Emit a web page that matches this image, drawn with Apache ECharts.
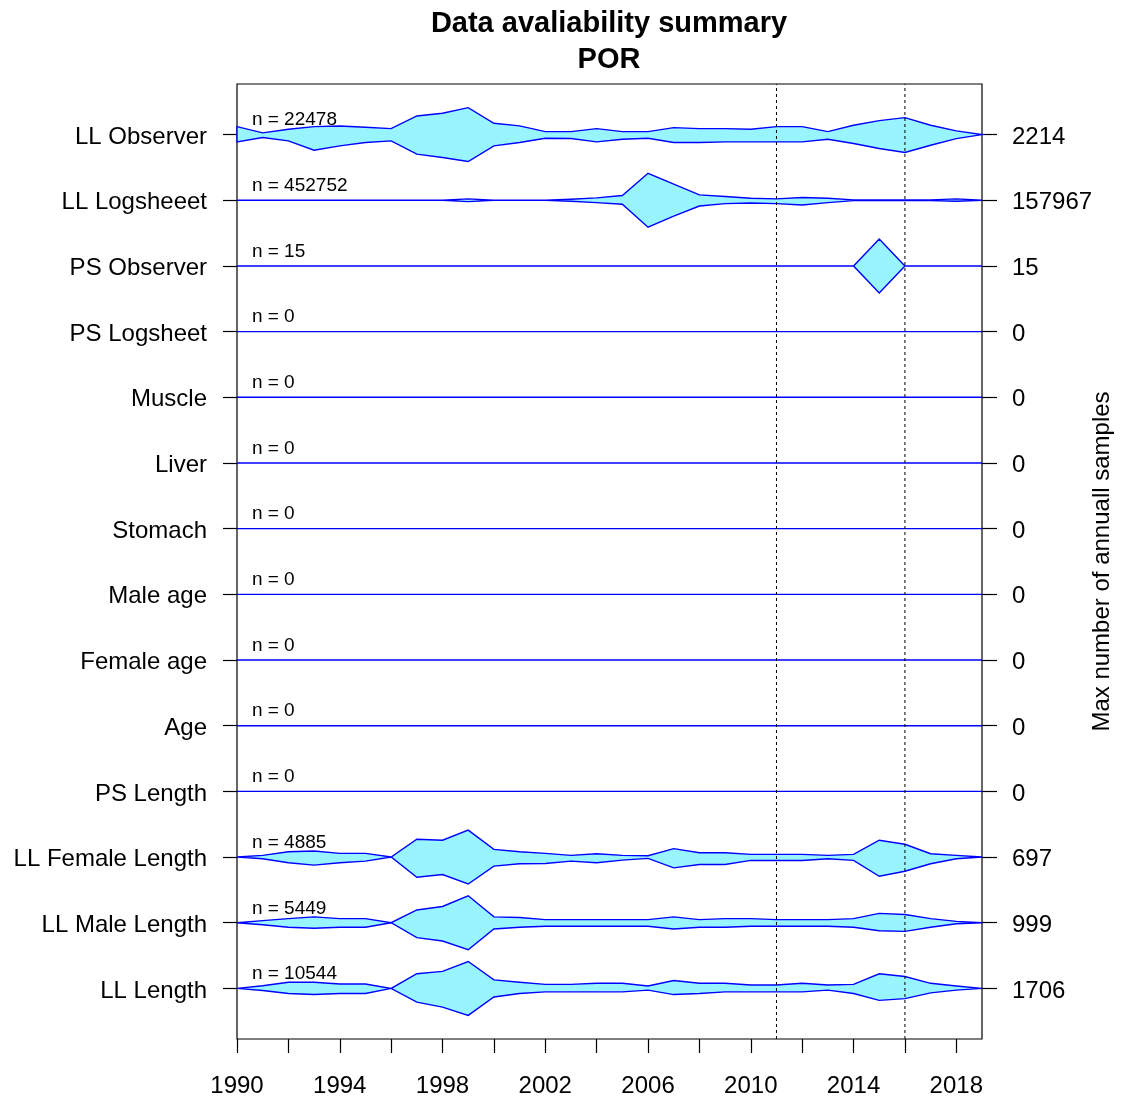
<!DOCTYPE html>
<html>
<head>
<meta charset="utf-8">
<script src="https://cdn.jsdelivr.net/npm/echarts@6/dist/echarts.min.js"></script>
<style>
  html, body { margin: 0; padding: 0; background: #fff; }
  #chart { width: 1121px; height: 1101px; }
</style>
</head>
<body>
<div id="chart"></div>
<script>
// Sampling years
const years = [1990,1991,1992,1993,1994,1995,1996,1997,1998,1999,2000,2001,2002,2003,2004,
               2005,2006,2007,2008,2009,2010,2011,2012,2013,2014,2015,2016,2017,2018,2019];
const xTickYears = [1990,1992,1994,1996,1998,2000,2002,2004,2006,2008,2010,2012,2014,2016,2018];
const xLabelYears = [1990,1994,1998,2002,2006,2010,2014,2018];
const markerYears = [2011, 2016];

// Data sources, top to bottom
const rowNames = ['LL Observer','LL Logsheeet','PS Observer','PS Logsheet','Muscle','Liver','Stomach',
                  'Male age','Female age','Age','PS Length','LL Female Length','LL Male Length','LL Length'];
const rowTotals = [22478,452752,15,0,0,0,0,0,0,0,0,4885,5449,10544];
const rowMaxima = [2214,157967,15,0,0,0,0,0,0,0,0,697,999,1706];

// Annual sample counts (upper and lower outline of each band)
const noSamples = [0,0,0,0,0,0,0,0,0,0,0,0,0,0,0,0,0,0,0,0,0,0,0,0,0,0,0,0,0,0];

const llObserverUpper = [656,137,437,656,711,601,492,1531,1749,2214,929,711,246,246,492,246,246,574,492,492,437,656,656,246,765,1148,1394,765,301,0];
const llObserverLower = [601,246,519,1285,929,656,519,1613,1886,2214,929,656,301,328,601,383,301,656,656,601,601,601,601,383,738,1148,1476,875,328,0];

const llLogsheetUpper = [0,0,0,0,0,0,0,0,0,7898,0,0,0,5924,13822,27644,157967,94780,31594,21720,11848,7898,15797,11848,1975,1975,1975,1975,7898,0];
const llLogsheetLower = [0,0,0,0,0,0,0,0,0,7898,0,0,0,5924,13822,23695,157967,92806,33568,19746,15797,19746,27644,13822,1975,1975,1975,1975,5924,0];

const psObserverCounts = [0,0,0,0,0,0,0,0,0,0,0,0,0,0,0,0,0,0,0,0,0,0,0,0,0,15,0,0,0,0];

const llFemaleUpper = [0,44,139,157,96,96,0,462,436,697,200,139,96,44,87,44,35,218,113,113,70,70,70,44,70,436,331,87,44,0];
const llFemaleLower = [0,44,148,209,148,105,0,523,453,697,235,174,165,105,148,78,35,279,192,192,87,87,87,44,87,497,366,174,44,0];

const llMaleUpper = [0,77,154,218,154,154,0,474,602,999,218,192,115,115,115,115,115,218,115,154,154,115,115,115,154,346,307,154,51,0];
const llMaleLower = [0,77,166,205,166,166,0,551,679,999,231,166,128,128,128,128,128,231,166,166,128,128,128,128,166,295,320,166,38,0];

const llLengthUpper = [0,173,389,389,281,281,0,929,1080,1706,540,389,259,259,324,324,151,497,324,324,216,216,324,216,259,929,756,324,151,0];
const llLengthLower = [0,130,324,389,324,324,0,864,1188,1706,540,324,216,216,216,216,108,389,324,216,216,216,216,108,324,756,648,281,108,0];

const rowUpper = [llObserverUpper, llLogsheetUpper, psObserverCounts, noSamples, noSamples, noSamples, noSamples,
                  noSamples, noSamples, noSamples, noSamples, llFemaleUpper, llMaleUpper, llLengthUpper];
const rowLower = [llObserverLower, llLogsheetLower, psObserverCounts, noSamples, noSamples, noSamples, noSamples,
                  noSamples, noSamples, noSamples, noSamples, llFemaleLower, llMaleLower, llLengthLower];

// Layout
const FONT = '"Liberation Sans", Arial, sans-serif';
const Y_MIN = 0.23, Y_MAX = 14.77;
const HALF_BAND = 0.41;          // peak half-height of a band, in row units
const rowCount = rowNames.length;
const rowPos = i => rowCount - i;  // top row sits highest
const rowValues = rowNames.map((_, i) => rowPos(i));
const rowIndexOf = v => rowCount - Math.round(v);

const bandSeries = rowNames.map((name, i) => ({
  name: name,
  type: 'custom',
  coordinateSystem: 'cartesian2d',
  xAxisIndex: 0,
  yAxisIndex: 0,
  silent: true,
  clip: false,
  z: 2,
  data: [[years[0], rowPos(i)]],
  renderItem: (params, api) => {
    const c = rowPos(i);
    const m = rowMaxima[i];
    const up = rowUpper[i], lo = rowLower[i];
    const pts = [];
    years.forEach((yr, k) => {
      pts.push(api.coord([yr, c + (m ? up[k] / m : 0) * HALF_BAND]));
    });
    for (let k = years.length - 1; k >= 0; k--) {
      pts.push(api.coord([years[k], c - (m ? lo[k] / m : 0) * HALF_BAND]));
    }
    const lab = api.coord([1990.58, c + 0.22]);
    return {
      type: 'group',
      children: [
        { type: 'polygon', shape: { points: pts },
          style: { fill: '#98F5FF', stroke: '#0000FF', lineWidth: 1.4 } },
        { type: 'text', x: lab[0], y: lab[1], z2: 10,
          style: { text: 'n = ' + rowTotals[i], fill: '#000', font: '19px ' + FONT,
                   textAlign: 'left', textVerticalAlign: 'middle' } }
      ]
    };
  }
}));

const markerSeries = {
  type: 'custom',
  coordinateSystem: 'cartesian2d',
  silent: true,
  z: 5,
  data: markerYears.map(y => [y]),
  renderItem: (params, api) => {
    const yr = api.value(0);
    const a = api.coord([yr, Y_MIN]);
    const b = api.coord([yr, Y_MAX]);
    return { type: 'line', shape: { x1: a[0], y1: a[1], x2: b[0], y2: b[1] },
             style: { stroke: '#000', lineWidth: 1, lineDash: [3, 3] } };
  }
};

const rowLabelRich = { r: { fontSize: 24, fontFamily: FONT, color: '#000', padding: [5, 0, 0, 0] } };

const chart = echarts.init(document.getElementById('chart'), null, { renderer: 'canvas' });
chart.setOption({
  animation: false,
  backgroundColor: '#fff',
  title: {
    text: 'Data avaliability summary\nPOR',
    left: 604, top: 1, textAlign: 'center',
    textStyle: { fontFamily: FONT, fontSize: 29, fontWeight: 'bold', color: '#000', lineHeight: 36 }
  },
  grid: {
    left: 237, right: 139, top: 84, bottom: 62,
    outerBoundsMode: 'none', containLabel: false,
    show: true, borderColor: '#000', borderWidth: 1.2, backgroundColor: 'transparent'
  },
  xAxis: {
    type: 'value', min: 1990, max: 2019,
    axisLine: { show: false },
    splitLine: { show: false },
    axisTick: { show: true, length: 14, customValues: xTickYears, lineStyle: { color: '#000', width: 1.2 } },
    axisLabel: { customValues: xLabelYears, formatter: v => String(v),
                 margin: 35, color: '#000', fontSize: 24, fontFamily: FONT }
  },
  yAxis: [
    {
      type: 'value', min: Y_MIN, max: Y_MAX, position: 'left',
      axisLine: { show: false },
      splitLine: { show: false },
      axisTick: { show: true, length: 14, customValues: rowValues, lineStyle: { color: '#000', width: 1.2 } },
      axisLabel: { customValues: rowValues, formatter: v => '{r|' + rowNames[rowIndexOf(v)] + '}',
                   rich: rowLabelRich,
                   margin: 30, color: '#000', fontSize: 24, fontFamily: FONT }
    },
    {
      type: 'value', min: Y_MIN, max: Y_MAX, position: 'right',
      name: 'Max number of annuall samples',
      nameLocation: 'middle', nameRotate: 90, nameGap: 108, nameMoveOverlap: false,
      nameTextStyle: { color: '#000', fontSize: 24, fontFamily: FONT },
      axisLine: { show: false },
      splitLine: { show: false },
      axisTick: { show: true, length: 15, customValues: rowValues, lineStyle: { color: '#000', width: 1.2 } },
      axisLabel: { customValues: rowValues, formatter: v => '{r|' + rowMaxima[rowIndexOf(v)] + '}',
                   rich: rowLabelRich,
                   margin: 30, color: '#000', fontSize: 24, fontFamily: FONT }
    }
  ],
  series: bandSeries.concat([markerSeries])
});
</script>
</body>
</html>
